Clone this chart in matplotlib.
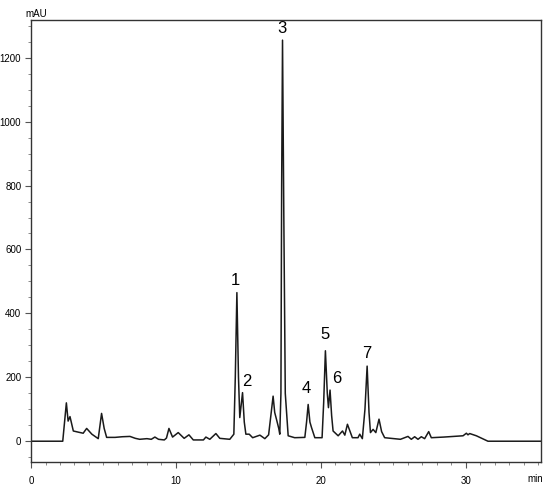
import matplotlib
matplotlib.use("Agg")
import matplotlib.pyplot as plt
from matplotlib.ticker import MultipleLocator

plt.rcParams['font.family'] = ['Liberation Sans', 'DejaVu Sans']

# retention time (min) and absorbance (mAU)
tiempo = [0, 2.19, 2.44, 2.56, 2.69, 2.92, 3.3, 3.6, 3.84, 4.2, 4.64, 4.87, 5.05, 5.22,
          5.8, 6.3, 6.83, 7.2, 7.5, 8.0, 8.3, 8.55, 8.8, 9.2, 9.35, 9.52, 9.77, 10.16,
          10.57, 10.9, 11.2, 11.9, 12.07, 12.34, 12.76, 13.03, 13.72, 14.0, 14.1, 14.21,
          14.32, 14.41, 14.6, 14.72, 14.83, 15.06, 15.3, 15.8, 16.14, 16.4, 16.58, 16.71,
          16.82, 16.94, 17.1, 17.17, 17.25, 17.3, 17.36, 17.45, 17.55, 17.75, 18.2, 18.9,
          19.02, 19.13, 19.25, 19.36, 19.59, 20.09, 20.2, 20.32, 20.45, 20.53, 20.64,
          20.75, 20.85, 21.2, 21.5, 21.66, 21.84, 22.18, 22.57, 22.69, 22.87, 23.05, 23.2,
          23.33, 23.43, 23.61, 23.8, 24.02, 24.2, 24.41, 25.5, 26.02, 26.25, 26.48, 26.71,
          26.94, 27.17, 27.45, 27.63, 28.5, 29.82, 30.05, 30.16, 30.28, 30.74, 31.54, 35.2]
senal = [0, 0, 120, 63, 77, 32, 28, 25, 40, 22, 8, 87, 40, 12,
         12, 14, 15, 9, 6, 8, 6, 13, 6, 4, 10, 40, 13, 27,
         9, 20, 4, 4, 13, 6, 24, 9, 6, 22, 200, 465,
         200, 74, 152, 60, 22, 22, 11, 19, 8, 20, 90, 141,
         90, 69, 40, 22, 150, 800, 1255, 700, 150, 17, 11, 12,
         60, 115, 60, 43, 11, 11, 120, 283, 150, 105, 160,
         80, 32, 17, 32, 19, 53, 11, 11, 22, 8, 100, 235,
         90, 27, 37, 27, 69, 30, 11, 6, 15, 6, 14, 6,
         14, 8, 30, 11, 13, 17, 25, 20, 24, 17, 0, 0]

# peak numbers and where they sit
picos = ["1", "2", "3", "4", "5", "6", "7"]
pico_t = [14.1, 14.9, 17.3, 19.03, 20.32, 21.08, 23.2]
pico_y = [480, 162, 1268, 140, 312, 172, 250]

fig = plt.figure(figsize=(5.5, 4.88), dpi=100)
ax = fig.add_axes([0.0564, 0.0533, 0.9272, 0.9057])

ax.plot(tiempo, senal, color='#1a1a1a', lw=1.1)

for p, t, y in zip(picos, pico_t, pico_y):
    ax.text(t, y, p, ha='center', va='bottom', fontsize=12, color='black')

ax.set_xlim(0, 35.2)
ax.set_ylim(-65, 1318)
ax.xaxis.set_major_locator(MultipleLocator(10))
ax.xaxis.set_minor_locator(MultipleLocator(1))
ax.yaxis.set_major_locator(MultipleLocator(200))
ax.yaxis.set_minor_locator(MultipleLocator(50))
ax.tick_params(axis='both', which='major', direction='out', length=4, width=0.8,
               labelsize=7, color='#555555')
ax.tick_params(axis='both', which='minor', direction='out', length=2.5, width=0.6,
               color='#777777')
ax.tick_params(axis='x', which='major', pad=6)
ax.tick_params(axis='y', which='major', pad=3)
for s in ax.spines.values():
    s.set_linewidth(1.0)
    s.set_color('#333333')

fig.text(0.047, 0.972, "mAU", fontsize=7, ha='left', va='center')
fig.text(0.973, 0.018, "min", fontsize=7, ha='center', va='center')

fig.savefig("out.png", dpi=100)
